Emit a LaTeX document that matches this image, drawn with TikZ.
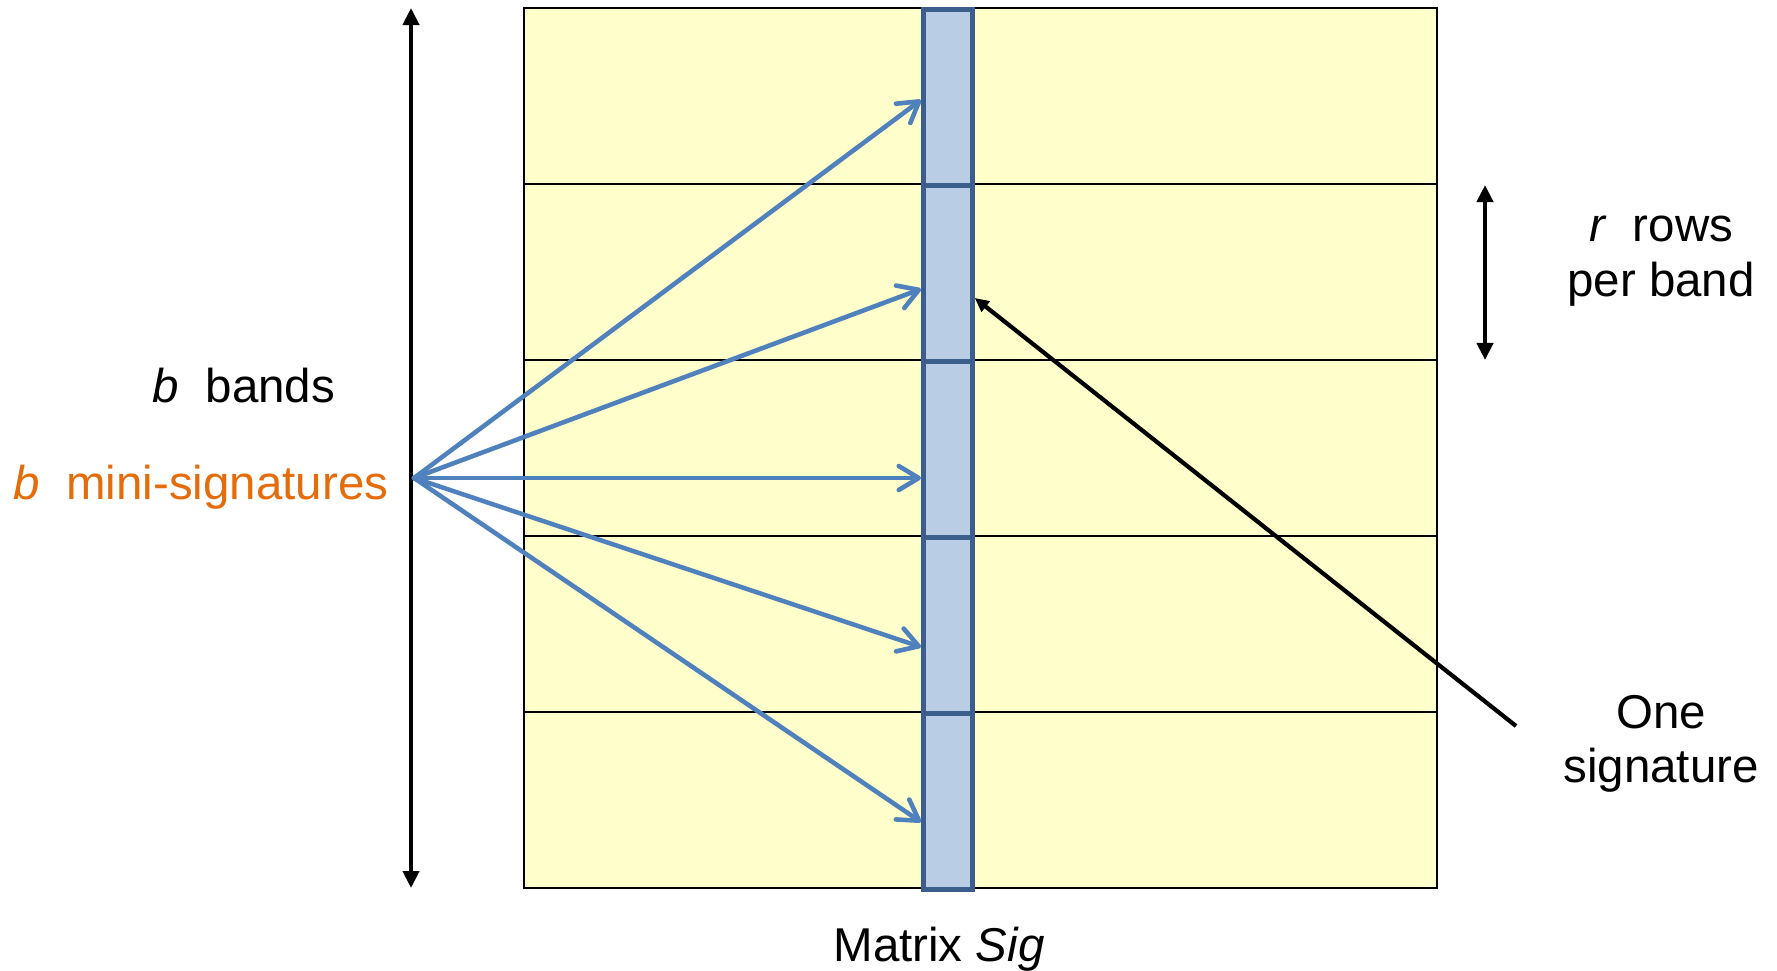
\documentclass[tikz,border=0pt]{standalone}
\usepackage{fontspec}
\setmainfont{Liberation Sans}
\usetikzlibrary{positioning,arrows.meta}
\definecolor{bandyellow}{HTML}{FFFFCC}
\definecolor{sigfill}{HTML}{B9CDE5}
\definecolor{sigedge}{HTML}{3B5E8C}
\definecolor{arrblue}{HTML}{4F81BD}
\definecolor{miniorange}{HTML}{E46C0A}

\begin{document}
\begin{tikzpicture}[
    x=0.01cm, y=-0.01cm,
    every node/.style={font=\fontsize{13.5}{15.5}\selectfont},
    band/.style={draw, fill=bandyellow, line width=0.6pt, inner sep=0pt, minimum width=9.12cm, minimum height=1.76cm, anchor=north west},
    sigcell/.style={draw=sigedge, fill=sigfill, line width=1.5pt, inner sep=0pt, minimum width=0.485cm, minimum height=1.76cm, anchor=north west},
    label/.style={inner sep=0pt, align=center},
    dblarr/.style={{Triangle[length=0.17cm,width=0.16cm]}-{Triangle[length=0.17cm,width=0.16cm]}, line width=1.15pt},
    sigarr/.style={-{Straight Barb[length=0.2cm,width=0.24cm,round]}, line width=1.3pt, arrblue, line cap=round},
    ptr/.style={-{Triangle[length=0.14cm,width=0.13cm]}, line width=1.2pt}
  ]
    \useasboundingbox (0,0) rectangle (1777,970);

    % bands of the matrix and the signature column
    \foreach \i in {1,...,5}
      \node[band] (band\i) at (523, {7+(\i-1)*176}) {};
    \foreach \i in {1,...,5}
      \node[sigcell] (cell\i) at (921, {7+(\i-1)*176}) {};

    \coordinate (btop) at (411,8);
    \coordinate (bbot) at (411,888);
    \draw[dblarr] (btop) -- (bbot);

    \coordinate (src) at (414,478);
    \foreach \y [count=\i] in {100,289,478,647,822}
      \draw[sigarr] (src) -- (cell\i.west |- 0,\y);

    \coordinate (rtop) at (1485,185);
    \coordinate (rbot) at (1485,360);
    \draw[dblarr] (rtop) -- (rbot);

    \coordinate (onesig) at (1516,726);
    \draw[ptr] (onesig) -- (cell2.east |- 0,298);

    \node[label, anchor=base] (bands) at (244,402) {\textit{b}\ \ bands};
    \node[label, anchor=base east, text=miniorange] (minis) at (389,499) {\textit{b}\ \ mini-signatures};
    \node[label] (rows) at (1661,261) {\textit{r}\ \ rows\\per band};
    \node[label] (one) at (1661,744) {One\\signature};
    \node[label, anchor=base] (sig) at (939,961) {Matrix \textit{Sig}};
\end{tikzpicture}
\end{document}
